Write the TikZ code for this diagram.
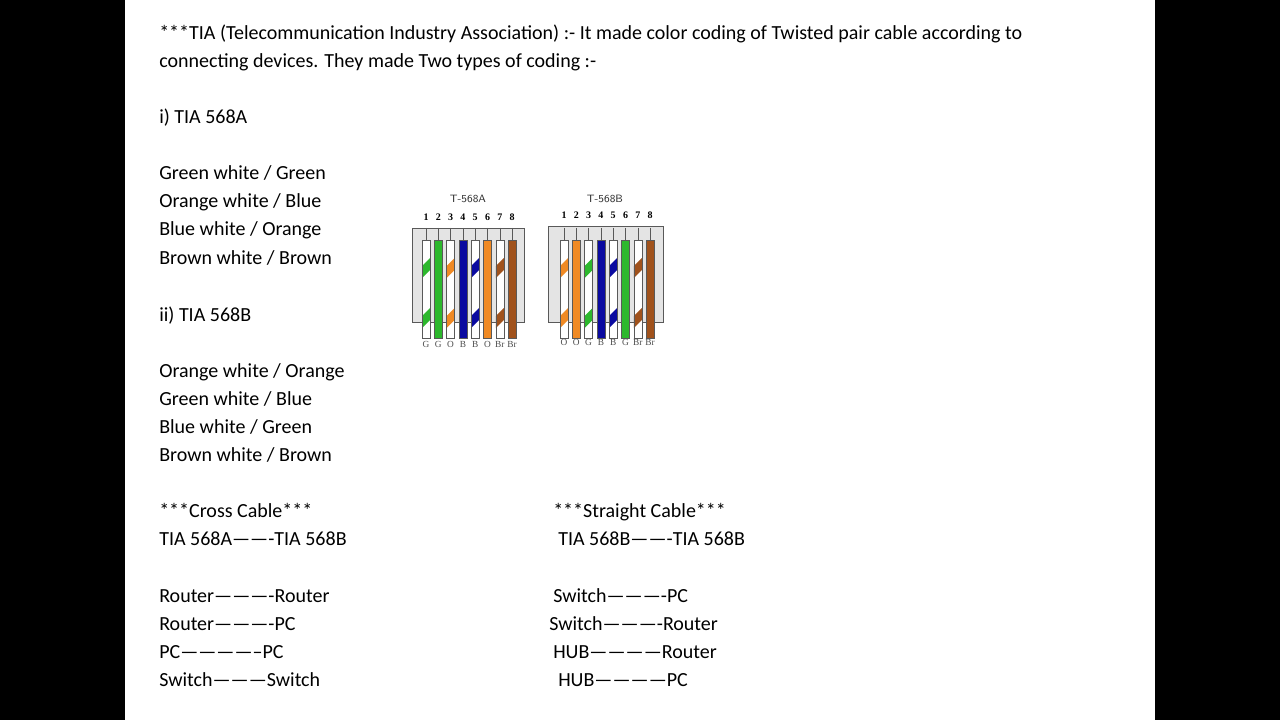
\documentclass[tikz,border=0pt]{standalone}
\usepackage{fontspec}
\setmainfont{Carlito}
\newfontfamily\serifsmall{Liberation Serif}
\usetikzlibrary{positioning}
\definecolor{wgreen}{HTML}{2DB82D}
\definecolor{worange}{HTML}{F08A24}
\definecolor{wblue}{HTML}{0A0AA0}
\definecolor{wbrown}{HTML}{A0521C}
\definecolor{jackgray}{HTML}{E4E4E4}
\tikzset{
  % text line style
  txt/.style={anchor=base west, inner sep=0pt, font=\fontsize{15}{18}\selectfont},
  % jack body
  jack/.style={draw=gray!70!black, fill=jackgray, line width=0.6pt},
  pinnum/.style={font=\serifsmall\bfseries\fontsize{7.5}{8}\selectfont, inner sep=0pt},
  pinlbl/.style={font=\serifsmall\fontsize{7}{8}\selectfont, inner sep=0pt, text=gray!60!black},
}
% \wire{x}{colour}{striped 0/1}
\newcommand{\wire}[3]{%
  \draw[gray!70!black, line width=0.4pt] (#1,228) -- (#1,240);
  \ifnum#3=1
    \fill[white] (#1-4,240) rectangle (#1+4,338);
    \foreach \yy in {258,308}{
      \fill[#2] (#1-4,\yy+8) -- (#1+4,\yy) -- (#1+4,\yy+12) -- (#1-4,\yy+20) -- cycle;
    }
  \else
    \fill[#2] (#1-4,240) rectangle (#1+4,338);
  \fi
  \draw[gray!70!black, line width=0.4pt] (#1-4,240) rectangle (#1+4,338);
}
\begin{document}
\begin{tikzpicture}[x=0.75pt, y=-0.75pt]
  \fill[black] (0,0) rectangle (1280,720);
  \fill[white] (125,0) rectangle (1155,720);
  \useasboundingbox (0,0) rectangle (1280,720);

  % header
  \node[txt] (h1) at (159,40) {***TIA (Telecommunication Industry Association) :- It made color coding of Twisted pair cable according to};
  \node[txt] (h2) at (159,68) {connecting devices. They made Two types of coding :-};

  % 568A list
  \node[txt] (ta) at (159,124) {i) TIA 568A};
  \node[txt] (a1) at (159,180) {Green white / Green};
  \node[txt] (a2) at (159,208) {Orange white / Blue};
  \node[txt] (a3) at (159,236) {Blue white / Orange};
  \node[txt] (a4) at (159,264) {Brown white / Brown};

  % 568B list
  \node[txt] (tb) at (159,321) {ii) TIA 568B};
  \node[txt] (b1) at (159,377) {Orange white / Orange};
  \node[txt] (b2) at (159,405) {Green white / Blue};
  \node[txt] (b3) at (159,433) {Blue white / Green};
  \node[txt] (b4) at (159,461) {Brown white / Brown};

  % cross cable
  \node[txt] (c0) at (159,517) {***Cross Cable***};
  \node[txt] (c1) at (159,545) {TIA 568A-------TIA 568B};
  \node[txt] (c2) at (159,602) {Router----------Router};
  \node[txt] (c3) at (159,630) {Router----------PC};
  \node[txt] (c4) at (159,658) {PC--------------PC};
  \node[txt] (c5) at (159,686) {Switch---------Switch};

  % straight cable
  \node[txt] (s0) at (553,517) {***Straight Cable***};
  \node[txt] (s1) at (558,545) {TIA 568B-------TIA 568B};
  \node[txt] (s2) at (553,602) {Switch----------PC};
  \node[txt] (s3) at (549,630) {Switch----------Router};
  \node[txt] (s4) at (553,658) {HUB------------Router};
  \node[txt] (s5) at (558,686) {HUB------------PC};

  % T-568A jack
  \draw[jack] (412,228) rectangle (524,322);
  \node[font=\sffamily\fontsize{8}{9}\selectfont, text=gray!40!black] (ja) at (468,199) {T-568A};
  \foreach \i/\c/\s/\l [count=\n] in {1/wgreen/1/G/,2/wgreen/0/G,3/worange/1/O/,4/wblue/0/B,
      5/wblue/1/B/,6/worange/0/O,7/wbrown/1/Br/,8/wbrown/0/Br}{
    \pgfmathsetmacro{\xx}{426+12.3*(\n-1)}
    \wire{\xx}{\c}{\s}
    \node[pinnum] (na\i) at (\xx,217) {\i};
    \node[pinlbl] (la\i) at (\xx,344) {\l};
  }

  % T-568B jack
  \draw[jack] (548,226) rectangle (663,322);
  \node[font=\sffamily\fontsize{8}{9}\selectfont, text=gray!40!black] (jb) at (605,199) {T-568B};
  \foreach \i/\c/\s/\l [count=\n] in {1/worange/1/O/,2/worange/0/O,3/wgreen/1/G/,4/wblue/0/B,
      5/wblue/1/B/,6/wgreen/0/G,7/wbrown/1/Br/,8/wbrown/0/Br}{
    \pgfmathsetmacro{\xx}{564+12.3*(\n-1)}
    \wire{\xx}{\c}{\s}
    \node[pinnum] (nb\i) at (\xx,215) {\i};
    \node[pinlbl] (lb\i) at (\xx,342) {\l};
  }
\end{tikzpicture}
\end{document}
